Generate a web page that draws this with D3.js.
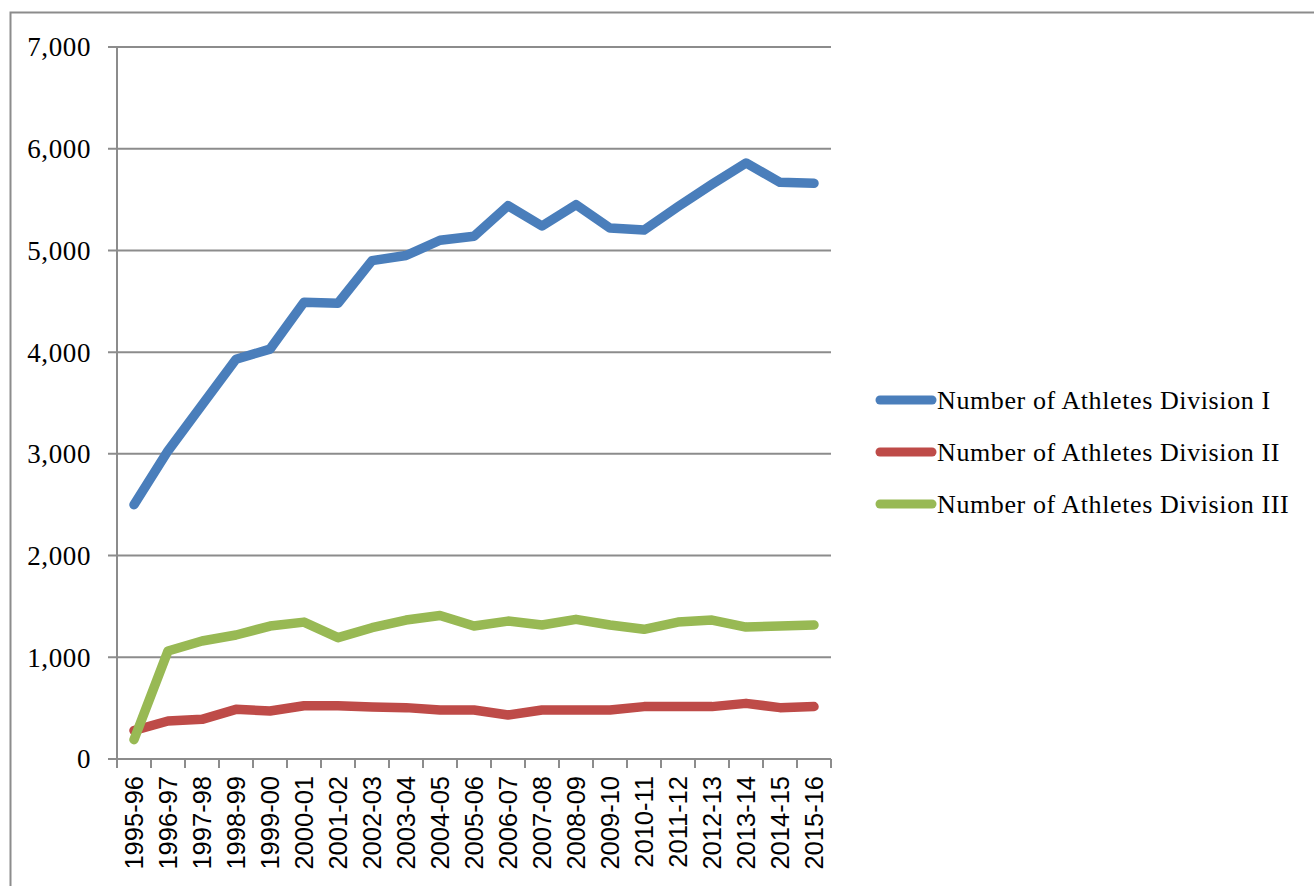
<!DOCTYPE html>
<html><head><meta charset="utf-8">
<script src="https://cdn.jsdelivr.net/npm/d3@7"></script>
<style>body{margin:0;background:#fff;overflow:hidden}</style>
</head><body>
<svg id="c" width="1314" height="886"></svg>
<script>
const categories = ["1995-96","1996-97","1997-98","1998-99","1999-00","2000-01","2001-02","2002-03","2003-04","2004-05","2005-06","2006-07","2007-08","2008-09","2009-10","2010-11","2011-12","2012-13","2013-14","2014-15","2015-16"];
const divisionI = [2500,3030,3480,3930,4030,4490,4480,4900,4950,5100,5140,5440,5240,5450,5220,5200,5430,5650,5860,5670,5660];
const divisionII = [280,374,390,488,472,524,524,511,505,482,482,433,482,482,482,515,515,515,547,505,515];
const divisionIII = [190,1062,1160,1219,1307,1346,1193,1291,1366,1410,1307,1356,1317,1373,1317,1275,1346,1366,1297,1307,1317];
const seriesNames = ["Number of Athletes Division I","Number of Athletes Division II","Number of Athletes Division III"];
const seriesColors = ["#4A7EBB","#BE4B48","#98B954"];
const yTicks = [0,1000,2000,3000,4000,5000,6000,7000];

const svg = d3.select("#c");
// outer frame
svg.append("rect").attr("x",10.5).attr("y",12.5).attr("width",1400).attr("height",1000)
  .attr("fill","none").attr("stroke","#8c8c8c").attr("stroke-width",2);

const x = d3.scaleBand().domain(categories).range([117,831]);
const y = d3.scaleLinear().domain([0,7000]).range([759,47]);

// gridlines
svg.append("g").selectAll("line").data(yTicks).join("line")
  .attr("x1",108).attr("x2",831).attr("y1",d=>y(d)).attr("y2",d=>y(d))
  .attr("stroke","#8c8c8c").attr("stroke-width",2);
// y axis line
svg.append("line").attr("x1",117).attr("x2",117).attr("y1",47).attr("y2",768)
  .attr("stroke","#8c8c8c").attr("stroke-width",2);
// x ticks at boundaries
const bounds = categories.map(c=>x(c)).concat([x.range()[1]]);
svg.append("g").selectAll("line").data(bounds.slice(1)).join("line")
  .attr("x1",d=>d).attr("x2",d=>d).attr("y1",759).attr("y2",768)
  .attr("stroke","#8c8c8c").attr("stroke-width",2);

// y labels
svg.append("g").selectAll("text").data(yTicks).join("text")
  .attr("x",91).attr("y",d=>y(d)).attr("dy","0.35em").attr("text-anchor","end")
  .attr("font-family","Liberation Serif, serif").attr("font-size",27).attr("letter-spacing",0.6).attr("fill","#000")
  .text(d=>d3.format(",")(d));

// x labels
svg.append("g").selectAll("text").data(categories).join("text")
  .attr("transform",d=>`translate(${x(d)+x.bandwidth()/2},776) rotate(-90)`)
  .attr("dy","0.36em").attr("text-anchor","end")
  .attr("font-family","Liberation Sans, Arial, sans-serif").attr("font-size",25.5).attr("fill","#000")
  .text(d=>d);

const series = [divisionI, divisionII, divisionIII];
const line = d3.line().x((d,i)=>x(categories[i])+x.bandwidth()/2).y(d=>y(d));
series.forEach((s,k)=>{
  svg.append("path").datum(s).attr("d",line).attr("fill","none")
    .attr("stroke",seriesColors[k]).attr("stroke-width",9.5)
    .attr("stroke-linejoin","round").attr("stroke-linecap","round");
});

// legend
const legY = [400,452,504];
seriesNames.forEach((n,k)=>{
  svg.append("line").attr("x1",880).attr("x2",932).attr("y1",legY[k]).attr("y2",legY[k])
    .attr("stroke",seriesColors[k]).attr("stroke-width",9).attr("stroke-linecap","round");
  svg.append("text").attr("x",937).attr("y",legY[k]).attr("dy","0.33em")
    .attr("font-family","Liberation Serif, serif").attr("font-size",26).attr("letter-spacing",0.6).attr("fill","#000")
    .text(n);
});
</script>
</body></html>
